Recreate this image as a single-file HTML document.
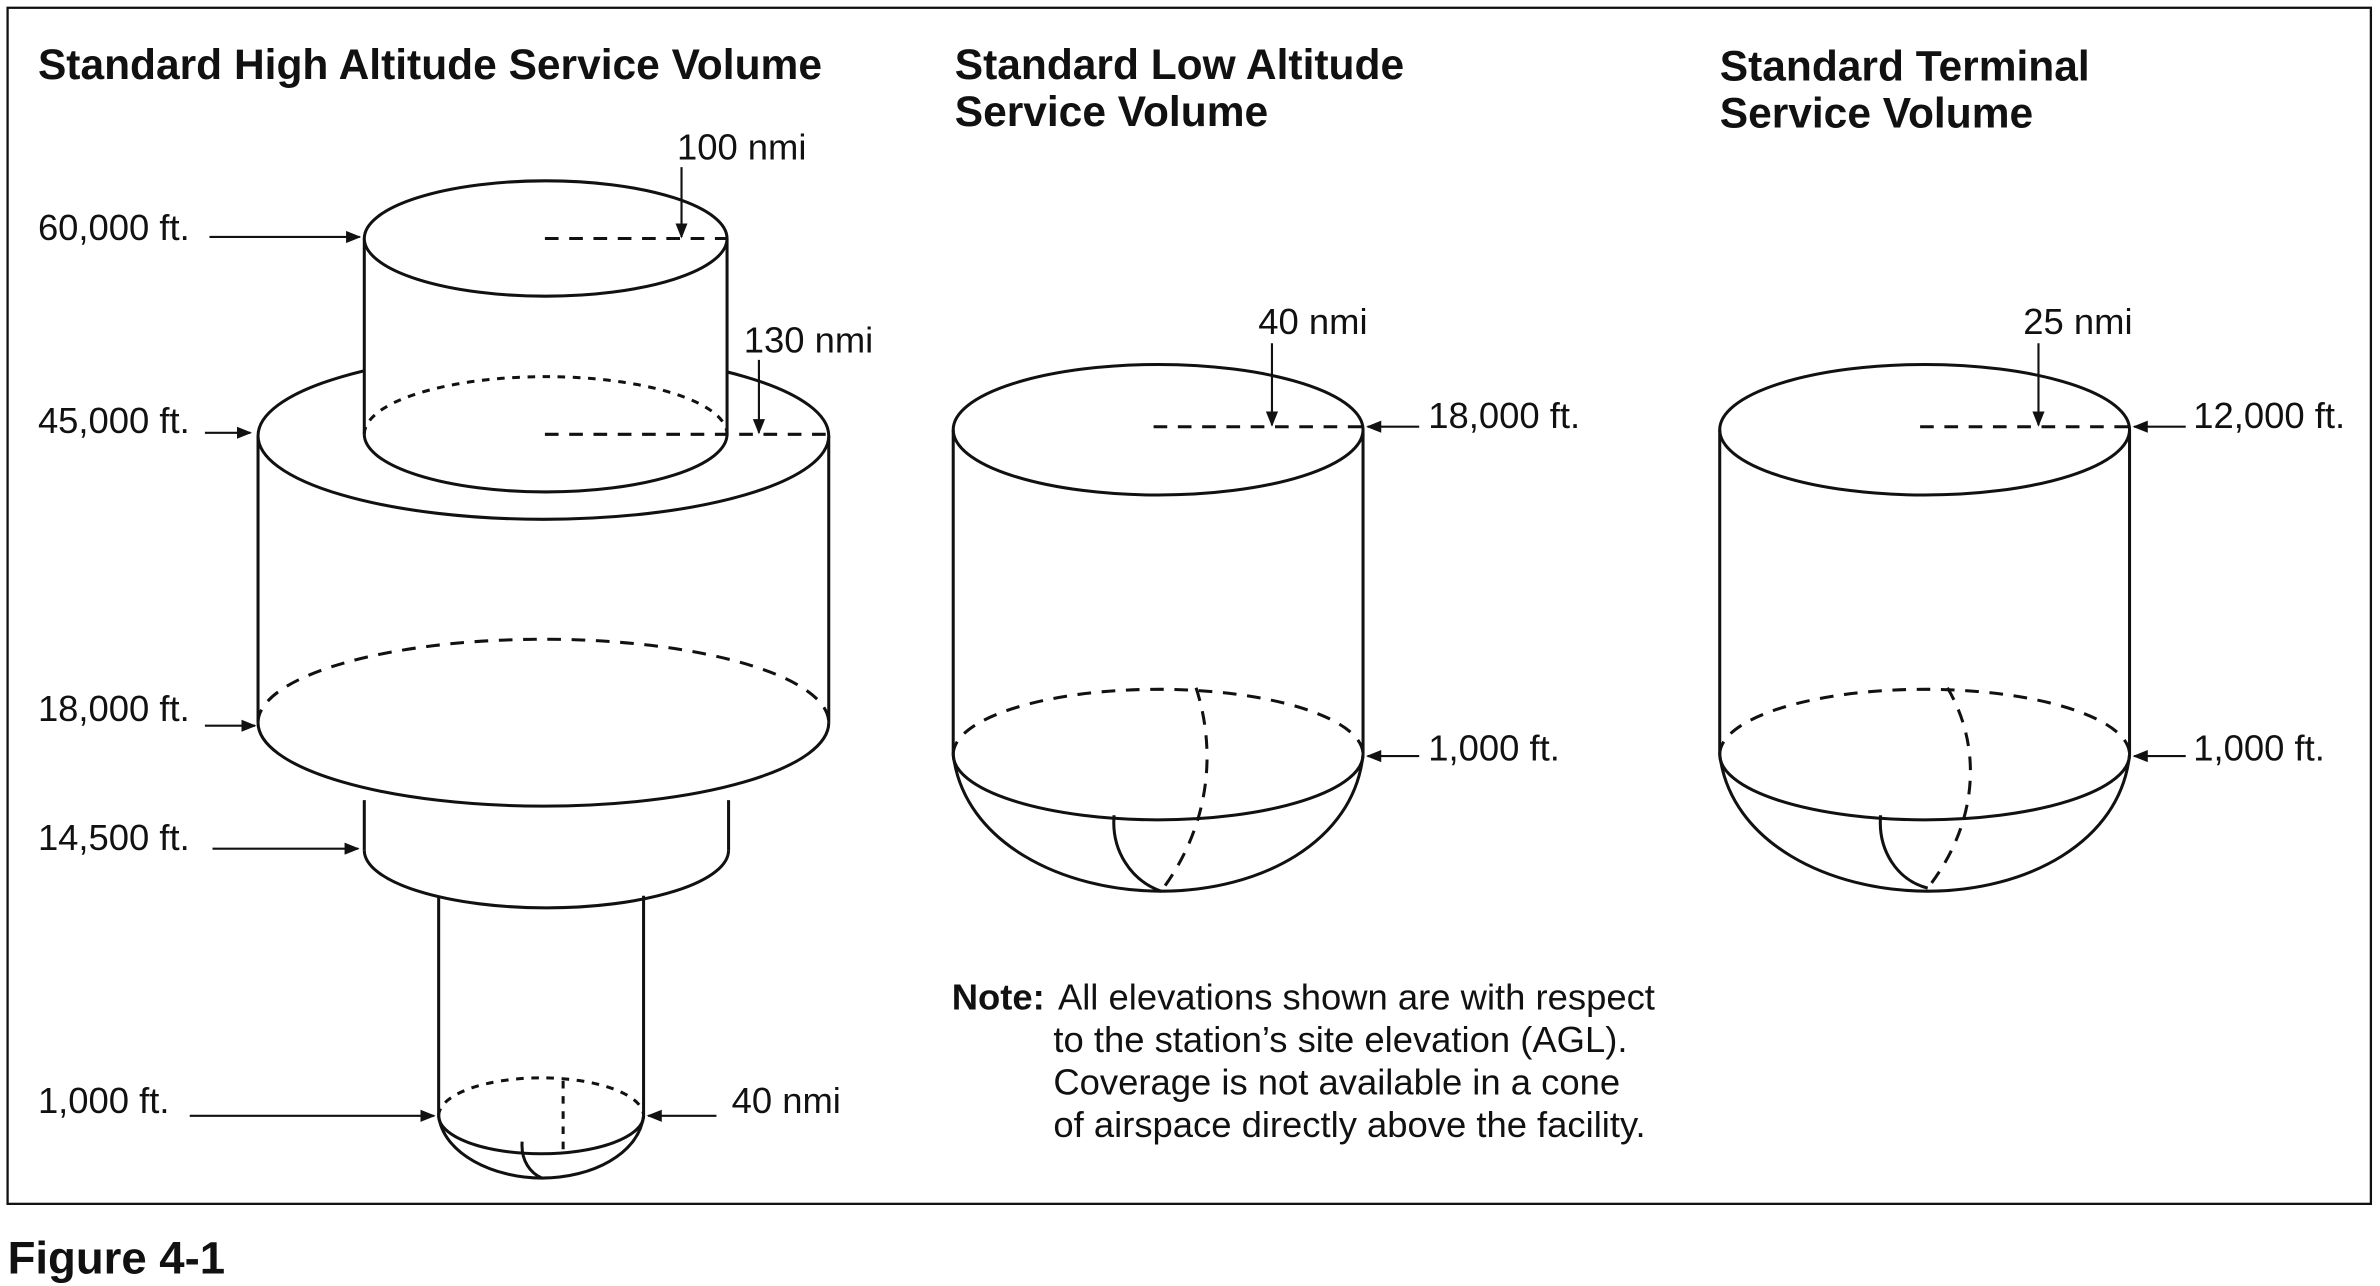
<!DOCTYPE html>
<html><head><meta charset="utf-8"><style>
html,body{margin:0;padding:0;background:#fff;}
svg{display:block;}
text{font-family:"Liberation Sans",Arial,sans-serif;fill:#111;}
.t{font-size:28px;font-weight:bold;}
.l{font-size:24px;}
.s{fill:none;stroke:#111;stroke-width:2;}
.d{fill:none;stroke:#111;stroke-width:2;stroke-dasharray:9,7;}
.dd{fill:none;stroke:#111;stroke-width:2;stroke-dasharray:5,5;}
.a{stroke:#111;stroke-width:1.4;fill:none;marker-end:url(#ah);}
</style></head><body>
<svg width="2380" height="1286" viewBox="0 0 1568 847" xmlns="http://www.w3.org/2000/svg">
<defs><marker id="ah" markerWidth="10" markerHeight="8" refX="9" refY="4" orient="auto" markerUnits="userSpaceOnUse"><path d="M0,0 L10,4 L0,8 z" fill="#111"/></marker></defs>
<rect x="5" y="5" width="1557" height="788" fill="none" stroke="#111" stroke-width="1.5"/>
<text x="5" y="839" style="font-size:30px;font-weight:900">Figure 4-1</text>

<text class="t" x="25" y="52">Standard High Altitude Service Volume</text>
<text class="t" x="629" y="52">Standard Low Altitude</text>
<text class="t" x="629" y="83">Service Volume</text>
<text class="t" x="1133" y="53">Standard Terminal</text>
<text class="t" x="1133" y="84">Service Volume</text>

<path class="s" d="M289,590 L289,735 M424,590 L424,735"/>
<path class="dd" d="M289,735 A67.5,25 0 0 1 424,735"/>
<path class="s" d="M289,735 A67.5,25 0 0 0 424,735"/>
<path class="s" d="M289,735 C292,760 325,776 357,776 C390,776 421,760 424,735"/>
<path class="dd" d="M371,712 L371,760"/>
<path class="s" d="M344,752 C343,765 350,773 357,776"/>
<path class="s" d="M240,527 L240,560 M480,527 L480,560"/>
<path class="s" d="M240,560 A120,38 0 0 0 480,560"/>
<path class="s" d="M170,287 L170,476 M546,287 L546,476"/>
<path class="d" d="M170,476 A188,55 0 0 1 546,476"/>
<path class="s" d="M170,476 A188,55 0 0 0 546,476"/>
<ellipse cx="358" cy="287" rx="188" ry="55" fill="#fff" stroke="#111" stroke-width="2"/>
<rect x="240" y="157" width="239" height="129" fill="#fff"/>
<path class="s" d="M240,157 L240,286 M479,157 L479,286"/>
<path class="dd" d="M240,286 A119.5,38 0 0 1 479,286"/>
<path class="s" d="M240,286 A119.5,38 0 0 0 479,286"/>
<ellipse cx="359.5" cy="157" rx="119.5" ry="38" fill="#fff" stroke="#111" stroke-width="2"/>
<path class="d" d="M359,157 L479,157"/>
<path class="d" d="M359,286 L546,286"/>
<text class="l" x="446" y="105">100 nmi</text>
<path class="a" d="M449,110 L449,156"/>
<text class="l" x="490" y="232">130 nmi</text>
<path class="a" d="M500,237 L500,285"/>
<text class="l" x="25" y="158">60,000 ft.</text><path class="a" d="M138,156 L237,156"/>
<text class="l" x="25" y="285">45,000 ft.</text><path class="a" d="M135,285 L165,285"/>
<text class="l" x="25" y="475">18,000 ft.</text><path class="a" d="M135,478 L168,478"/>
<text class="l" x="25" y="560">14,500 ft.</text><path class="a" d="M140,559 L236,559"/>
<text class="l" x="25" y="733">1,000 ft.</text><path class="a" d="M125,735 L286,735"/>
<text class="l" x="482" y="733">40 nmi</text><path class="a" d="M472,735 L427,735"/>

<g>
<path class="s" d="M628,283 L628,497 M898,283 L898,497"/>
<ellipse cx="763" cy="283" rx="135" ry="43" class="s"/>
<path class="d" d="M628,497 A135,43 0 0 1 898,497"/>
<path class="s" d="M628,497 A135,43 0 0 0 898,497"/>
<path class="s" d="M628,497 C635,555 700,587 765,587 C830,587 892,555 898,497"/>
<path class="d" d="M788,453 C800,490 800,540 765,587"/>
<path class="s" d="M734,537 C732,560 745,580 765,587"/>
<path class="d" d="M760,281 L898,281"/>
<text class="l" x="829" y="220">40 nmi</text><path class="a" d="M838,226 L838,280"/>
<text class="l" x="941" y="282">18,000 ft.</text><path class="a" d="M935,281 L901,281"/>
<text class="l" x="941" y="501">1,000 ft.</text><path class="a" d="M935,498 L901,498"/>
</g>

<g transform="translate(505,0)">
<path class="s" d="M628,283 L628,497 M898,283 L898,497"/>
<ellipse cx="763" cy="283" rx="135" ry="43" class="s"/>
<path class="d" d="M628,497 A135,43 0 0 1 898,497"/>
<path class="s" d="M628,497 A135,43 0 0 0 898,497"/>
<path class="s" d="M628,497 C635,555 700,587 765,587 C830,587 892,555 898,497"/>
<path class="d" d="M778,453 C800,490 800,540 765,585"/>
<path class="s" d="M734,537 C732,560 745,580 765,585"/>
<path class="d" d="M760,281 L898,281"/>
<text class="l" x="828" y="220">25 nmi</text><path class="a" d="M838,226 L838,280"/>
<text class="l" x="940" y="282">12,000 ft.</text><path class="a" d="M935,281 L901,281"/>
<text class="l" x="940" y="501">1,000 ft.</text><path class="a" d="M935,498 L901,498"/>
</g>

<text class="l" x="627" y="665" style="font-weight:bold">Note:</text>
<text class="l" x="697" y="665">All elevations shown are with respect</text>
<text class="l" x="694" y="693">to the station’s site elevation (AGL).</text>
<text class="l" x="694" y="721">Coverage is not available in a cone</text>
<text class="l" x="694" y="749">of airspace directly above the facility.</text>
</svg>
</body></html>
